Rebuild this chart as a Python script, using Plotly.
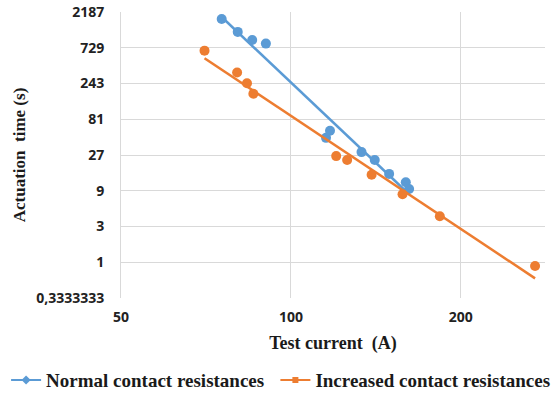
import numpy as np
import plotly.graph_objects as go

# Test current (A) and measured actuation time (s)
normal_current = [75.4, 80.5, 85.4, 90.3, 115.4, 117.3, 133.4, 140.8, 149.3, 159.8, 162.0]
normal_time = [1768, 1186, 927, 828, 45.7, 56.8, 29.5, 23.1, 15.1, 11.7, 9.5]

increased_current = [70.3, 80.3, 83.6, 85.8, 120.3, 125.8, 139.0, 157.7, 183.6, 270.8]
increased_time = [667, 340, 245, 177, 26.1, 23.1, 14.7, 8.1, 4.1, 0.89]

x_ticks = [50, 100, 200]
y_ticks = [1 / 3, 1, 3, 9, 27, 81, 243, 729, 2187]
y_tick_text = ["0,3333333", "1", "3", "9", "27", "81", "243", "729", "2187"]

BLUE = "#5B9BD5"
ORANGE = "#ED7D31"
SERIF = "Liberation Serif"
TEXT = "#1a1a1a"
TICKFONT = dict(family="Open Sans", size=14, color="#222222", weight="bold")


def power_fit(x, y):
    """Least-squares power law y = a * x^b, sampled over the data range."""
    lx, ly = np.log(x), np.log(y)
    b, ln_a = np.polyfit(lx, ly, 1)
    xs = np.exp(np.linspace(lx.min(), lx.max(), 50))
    return xs, np.exp(ln_a) * xs ** b


fig = go.Figure()

series = [
    (normal_current, normal_time, BLUE, "Normal contact resistances", "diamond", 7, "legend"),
    (increased_current, increased_time, ORANGE, "Increased contact resistances", "square", 6, "legend2"),
]
for cur, t, color, name, sym, msize, leg in series:
    xs, ys = power_fit(np.array(cur), np.array(t))
    fig.add_trace(go.Scatter(x=xs, y=ys, mode="lines", line=dict(color=color, width=2.5),
                             showlegend=False, hoverinfo="skip"))
    fig.add_trace(go.Scatter(x=cur, y=t, mode="markers",
                             marker=dict(color=color, size=10, symbol="circle"),
                             showlegend=False, name=name))
    # legend entry: line with a small marker
    fig.add_trace(go.Scatter(x=[None], y=[None], mode="lines+markers", name=name,
                             line=dict(color=color, width=2),
                             marker=dict(color=color, size=msize, symbol=sym),
                             legend=leg))

legend_font = dict(family=SERIF, size=19, color=TEXT, weight="bold")
legend_common = dict(orientation="h", xref="container", yref="container",
                     xanchor="left", y=0.035, yanchor="middle",
                     font=legend_font, bgcolor="rgba(0,0,0,0)")

fig.update_layout(
    width=553, height=394,
    margin=dict(l=121, r=8, t=12, b=96, autoexpand=False),
    paper_bgcolor="white", plot_bgcolor="white",
    showlegend=True,
    legend=dict(x=0.011, **legend_common),
    legend2=dict(x=0.498, **legend_common),
)

fig.update_xaxes(
    type="log", range=[np.log10(50), np.log10(282)],
    tickvals=x_ticks, ticktext=[str(v) for v in x_ticks],
    tickfont=TICKFONT, ticks="", ticklabelstandoff=9,
    showgrid=True, gridcolor="#D9D9D9", gridwidth=1,
    showline=False, zeroline=False,
    title=dict(text="Test current  (A)", standoff=11,
               font=dict(family=SERIF, size=18, color=TEXT, weight="bold")),
)

fig.update_yaxes(
    type="log", range=[np.log10(1 / 3), np.log10(2187)],
    tickvals=y_ticks, ticktext=y_tick_text,
    tickfont=TICKFONT, ticks="", ticklabelstandoff=13,
    showgrid=True, gridcolor="#D9D9D9", gridwidth=1,
    showline=True, linecolor="#D9D9D9", linewidth=1,
    zeroline=False,
    title=dict(text="Actuation  time (s)", standoff=6,
               font=dict(family=SERIF, size=17, color=TEXT, weight="bold")),
)

fig.write_html("out.html")
